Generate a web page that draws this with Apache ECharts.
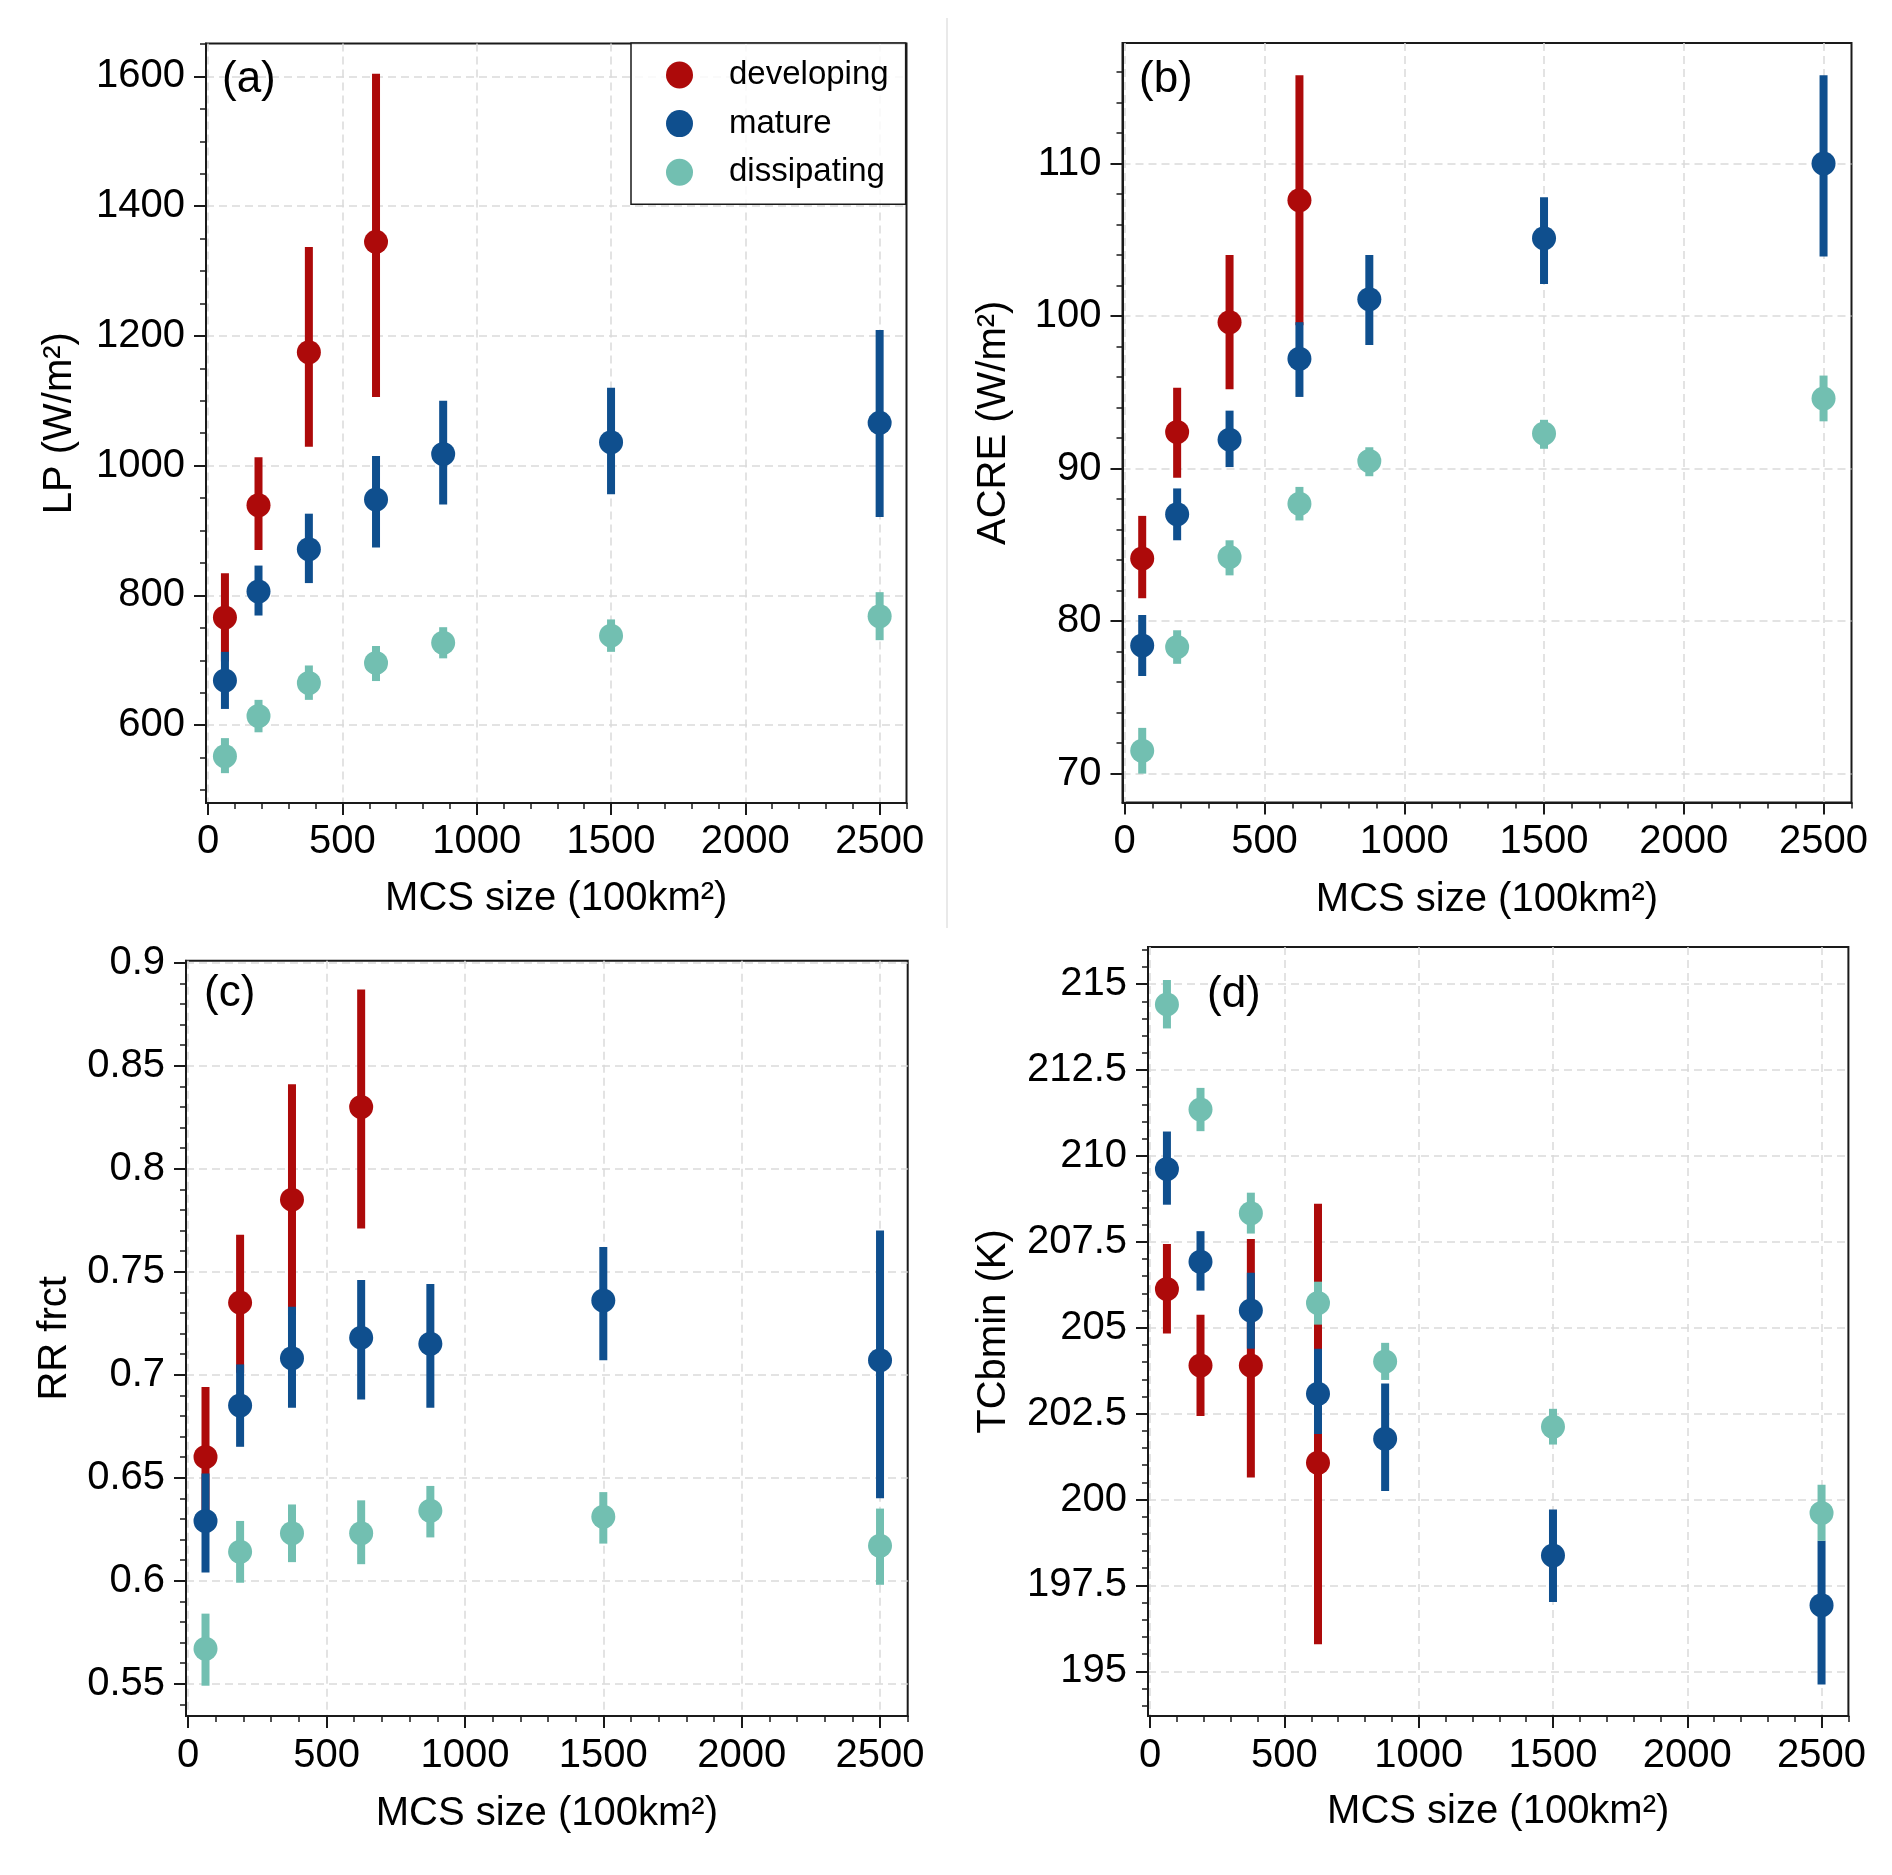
<!DOCTYPE html>
<html>
<head>
<meta charset="utf-8">
<script src="https://cdn.jsdelivr.net/npm/echarts@6/dist/echarts.min.js"></script>
<style>
html,body{margin:0;padding:0;background:#ffffff;}
#chart{width:1892px;height:1875px;}
</style>
</head>
<body>
<div id="chart"></div>
<script>
// ---------- data ----------
const mcsSize = [62.5, 187.5, 375, 625, 875, 1500, 2500];
const stageNames = ['developing', 'mature', 'dissipating'];

// (a) LP (W/m2)
const lpDevMean = [766, 939, 1175, 1345];
const lpDevLow  = [698, 870, 1029, 1106];
const lpDevHigh = [834, 1013, 1337, 1604];
const lpMatMean = [669, 806, 871, 948, 1018, 1036, 1066];
const lpMatLow  = [625, 769, 819, 874, 940, 956, 921];
const lpMatHigh = [713, 846, 926, 1015, 1100, 1120, 1209];
const lpDisMean = [552, 614, 665, 696, 727, 738, 768];
const lpDisLow  = [526, 589, 639, 668, 703, 713, 731];
const lpDisHigh = [580, 639, 692, 722, 751, 763, 805];

// (b) ACRE (W/m2)
const acreDevMean = [84.1, 92.4, 99.6, 107.6];
const acreDevLow  = [81.5, 89.4, 95.2, 99.4];
const acreDevHigh = [86.9, 95.3, 104.0, 115.8];
const acreMatMean = [78.4, 87.0, 91.9, 97.2, 101.1, 105.1, 110.0];
const acreMatLow  = [76.4, 85.3, 90.1, 94.7, 98.1, 102.1, 103.9];
const acreMatHigh = [80.4, 88.7, 93.8, 99.6, 104.0, 107.8, 115.8];
const acreDisMean = [71.5, 78.3, 84.2, 87.7, 90.5, 92.3, 94.6];
const acreDisLow  = [70.0, 77.2, 83.0, 86.6, 89.5, 91.3, 93.1];
const acreDisHigh = [73.0, 79.4, 85.3, 88.8, 91.4, 93.2, 96.1];

// (c) RR frct
const rrDevMean = [0.660, 0.735, 0.785, 0.830];
const rrDevLow  = [0.626, 0.701, 0.729, 0.771];
const rrDevHigh = [0.694, 0.768, 0.841, 0.887];
const rrMatMean = [0.629, 0.685, 0.708, 0.718, 0.715, 0.736, 0.707];
const rrMatLow  = [0.604, 0.665, 0.684, 0.688, 0.684, 0.707, 0.640];
const rrMatHigh = [0.652, 0.705, 0.733, 0.746, 0.744, 0.762, 0.770];
const rrDisMean = [0.567, 0.614, 0.623, 0.623, 0.634, 0.631, 0.617];
const rrDisLow  = [0.549, 0.599, 0.609, 0.608, 0.621, 0.618, 0.598];
const rrDisHigh = [0.584, 0.629, 0.637, 0.639, 0.646, 0.643, 0.635];

// (d) TCbmin (K)
const tcbDevMean = [206.13, 203.90, 203.90, 201.07];
const tcbDevLow  = [204.83, 202.43, 200.64, 195.79];
const tcbDevHigh = [207.44, 205.38, 207.58, 208.61];
const tcbMatMean = [209.62, 206.92, 205.50, 203.08, 201.77, 198.37, 196.92];
const tcbMatLow  = [208.58, 206.08, 204.39, 201.91, 200.25, 197.02, 194.62];
const tcbMatHigh = [210.71, 207.81, 206.60, 204.39, 203.38, 199.71, 198.80];
const tcbDisMean = [214.41, 211.35, 208.33, 205.72, 204.02, 202.12, 199.61];
const tcbDisLow  = [213.71, 210.72, 207.74, 205.09, 203.48, 201.60, 198.80];
const tcbDisHigh = [215.12, 211.98, 208.93, 206.34, 204.56, 202.64, 200.43];

// tick labels
const xMajorTicks = [0, 500, 1000, 1500, 2000, 2500];
const lpTicks   = [600, 800, 1000, 1200, 1400, 1600];
const acreTicks = [70, 80, 90, 100, 110];
const rrTicks   = [0.55, 0.6, 0.65, 0.7, 0.75, 0.8, 0.85, 0.9];
const tcbTicks  = [195, 197.5, 200, 202.5, 205, 207.5, 210, 212.5, 215];

// ---------- styling / layout ----------
const FONT = "'Liberation Sans', Arial, Helvetica, sans-serif";
const COLORS = ['#ad0a0a', '#0f4f8e', '#72bfb1'];
const INK = '#1a1a1a';
const X_MIN = -8, X_MAX = 2600, X_MINOR_STEP = 100;

function minorValues(min, max, step) {
  const out = [];
  const start = Math.ceil(min / step - 1e-9) * step;
  for (let k = 0; ; k++) {
    const v = Math.round((start + k * step) * 1e6) / 1e6;
    if (v > max + 1e-9) break;
    out.push(v);
  }
  return out;
}

const panels = [
  { grid: {left: 206, top: 43.5, width: 700.5, height: 759.5}, yMin: 480, yMax: 1650.8, yTicks: lpTicks, yMinor: 50,
    yName: 'LP (W/m²)', yNameGap: 126, xNameGap: 76, xLabelMargin: 19, label: '(a)', labelLeft: 222, labelTop: 57.5,
    stages: [[lpDevMean, lpDevLow, lpDevHigh], [lpMatMean, lpMatLow, lpMatHigh], [lpDisMean, lpDisLow, lpDisHigh]] },
  { grid: {left: 1122.5, top: 43.1, width: 729, height: 759.5}, yMin: 68.1, yMax: 117.9, yTicks: acreTicks, yMinor: 2,
    yName: 'ACRE (W/m²)', yNameGap: 109, xNameGap: 77, xLabelMargin: 19, label: '(b)', labelLeft: 1139, labelTop: 58,
    stages: [[acreDevMean, acreDevLow, acreDevHigh], [acreMatMean, acreMatLow, acreMatHigh], [acreDisMean, acreDisLow, acreDisHigh]] },
  { grid: {left: 186, top: 960.7, width: 721.7, height: 755.3}, yMin: 0.5343, yMax: 0.9010, yTicks: rrTicks, yMinor: 0.01,
    yName: 'RR frct', yNameGap: 111, xNameGap: 78, xLabelMargin: 20, label: '(c)', labelLeft: 204, labelTop: 972,
    stages: [[rrDevMean, rrDevLow, rrDevHigh], [rrMatMean, rrMatLow, rrMatHigh], [rrDisMean, rrDisLow, rrDisHigh]] },
  { grid: {left: 1148, top: 947, width: 700.4, height: 769}, yMin: 193.7, yMax: 216.08, yTicks: tcbTicks, yMinor: 0.5,
    yName: 'TCbmin (K)', yNameGap: 134, xNameGap: 76, xLabelMargin: 20, label: '(d)', labelLeft: 1207, labelTop: 973,
    stages: [[tcbDevMean, tcbDevLow, tcbDevHigh], [tcbMatMean, tcbMatLow, tcbMatHigh], [tcbDisMean, tcbDisLow, tcbDisHigh]] }
];

const fmt = v => String(+Number(v).toFixed(4));

const grids = [], xAxes = [], yAxes = [], series = [], titles = [];

panels.forEach((p, i) => {
  grids.push(Object.assign({show: true, borderColor: INK, borderWidth: 2, backgroundColor: 'transparent',
    containLabel: false, outerBoundsMode: 'none'}, p.grid));

  // major x axis
  xAxes.push({
    type: 'value', gridIndex: i, position: 'bottom', min: X_MIN, max: X_MAX,
    axisLine: {show: true, onZero: false, lineStyle: {color: INK, width: 2}},
    axisTick: {show: true, length: 12, lineStyle: {color: INK, width: 2}, customValues: xMajorTicks},
    axisLabel: {show: true, margin: p.xLabelMargin, fontSize: 40, color: '#000', fontFamily: FONT, customValues: xMajorTicks, formatter: fmt},
    splitLine: {show: true, lineStyle: {color: '#dadada', width: 1.5, type: [8, 5]}},
    minorTick: {show: false},
    name: 'MCS size (100km²)', nameLocation: 'middle', nameGap: p.xNameGap,
    nameTextStyle: {fontSize: 40, color: '#000', fontFamily: FONT}
  });
  // minor x axis (ticks only)
  xAxes.push({
    type: 'value', gridIndex: i, position: 'bottom', min: X_MIN, max: X_MAX,
    axisLine: {show: false, onZero: false},
    axisTick: {show: true, length: 6, lineStyle: {color: INK, width: 1.5}, customValues: minorValues(X_MIN, X_MAX, X_MINOR_STEP)},
    axisLabel: {show: false}, splitLine: {show: false}
  });
  // major y axis
  yAxes.push({
    type: 'value', gridIndex: i, position: 'left', min: p.yMin, max: p.yMax,
    axisLine: {show: true, onZero: false, lineStyle: {color: INK, width: 2}},
    axisTick: {show: true, length: 12, lineStyle: {color: INK, width: 2}, customValues: p.yTicks},
    axisLabel: {show: true, margin: 21, fontSize: 40, color: '#000', fontFamily: FONT, customValues: p.yTicks, formatter: fmt},
    splitLine: {show: true, lineStyle: {color: '#dadada', width: 1.5, type: [8, 5]}},
    minorTick: {show: false},
    name: p.yName, nameLocation: 'middle', nameGap: p.yNameGap, nameRotate: 90,
    nameTextStyle: {fontSize: 40, color: '#000', fontFamily: FONT}
  });
  // minor y axis (ticks only)
  yAxes.push({
    type: 'value', gridIndex: i, position: 'left', min: p.yMin, max: p.yMax,
    axisLine: {show: false, onZero: false},
    axisTick: {show: true, length: 6, lineStyle: {color: INK, width: 1.5}, customValues: minorValues(p.yMin, p.yMax, p.yMinor)},
    axisLabel: {show: false}, splitLine: {show: false}
  });

  titles.push({text: p.label, left: p.labelLeft, top: p.labelTop, padding: 0,
    textStyle: {fontSize: 44, fontWeight: 'normal', color: '#000', fontFamily: FONT}});

  p.stages.forEach((st, s) => {
    const [mean, low, high] = st;
    const color = COLORS[s];
    series.push({
      type: 'custom', name: stageNames[s] + ' range', xAxisIndex: 2 * i, yAxisIndex: 2 * i,
      silent: true, animation: false,
      data: low.map((lo, k) => [mcsSize[k], lo, high[k]]),
      encode: {x: 0, y: [1, 2]},
      renderItem: (params, api) => {
        const x = api.value(0);
        const top = api.coord([x, api.value(2)]);
        const bot = api.coord([x, api.value(1)]);
        return {type: 'rect', shape: {x: top[0] - 4, y: top[1], width: 8, height: bot[1] - top[1]},
          style: {fill: color}};
      }
    });
    series.push({
      type: 'scatter', name: stageNames[s], xAxisIndex: 2 * i, yAxisIndex: 2 * i,
      silent: true, animation: false, symbol: 'circle', symbolSize: 24,
      itemStyle: {color: color, opacity: 1},
      data: mean.map((v, k) => [mcsSize[k], v])
    });
  });
});

const chart = echarts.init(document.getElementById('chart'), null, {renderer: 'canvas', width: 1892, height: 1875});
chart.setOption({
  backgroundColor: '#ffffff',
  animation: false,
  title: titles,
  grid: grids,
  xAxis: xAxes,
  yAxis: yAxes,
  legend: {
    data: stageNames.map(n => ({name: n, icon: 'circle'})),
    orient: 'vertical', left: 631, top: 43,
    itemWidth: 27, itemHeight: 27, itemGap: 8.6,
    padding: [12, 17, 12, 35],
    borderColor: INK, borderWidth: 1.5, borderRadius: 0,
    backgroundColor: 'rgba(255,255,255,0.8)',
    textStyle: {fontSize: 33, color: '#000', fontFamily: FONT, lineHeight: 40, padding: [0, 0, 0, 31]},
    selectedMode: false
  },
  graphic: [{type: 'line', shape: {x1: 947, y1: 18, x2: 947, y2: 928}, style: {stroke: '#e2e2e2', lineWidth: 1.5}, silent: true}],
  series: series
});
</script>
</body>
</html>
